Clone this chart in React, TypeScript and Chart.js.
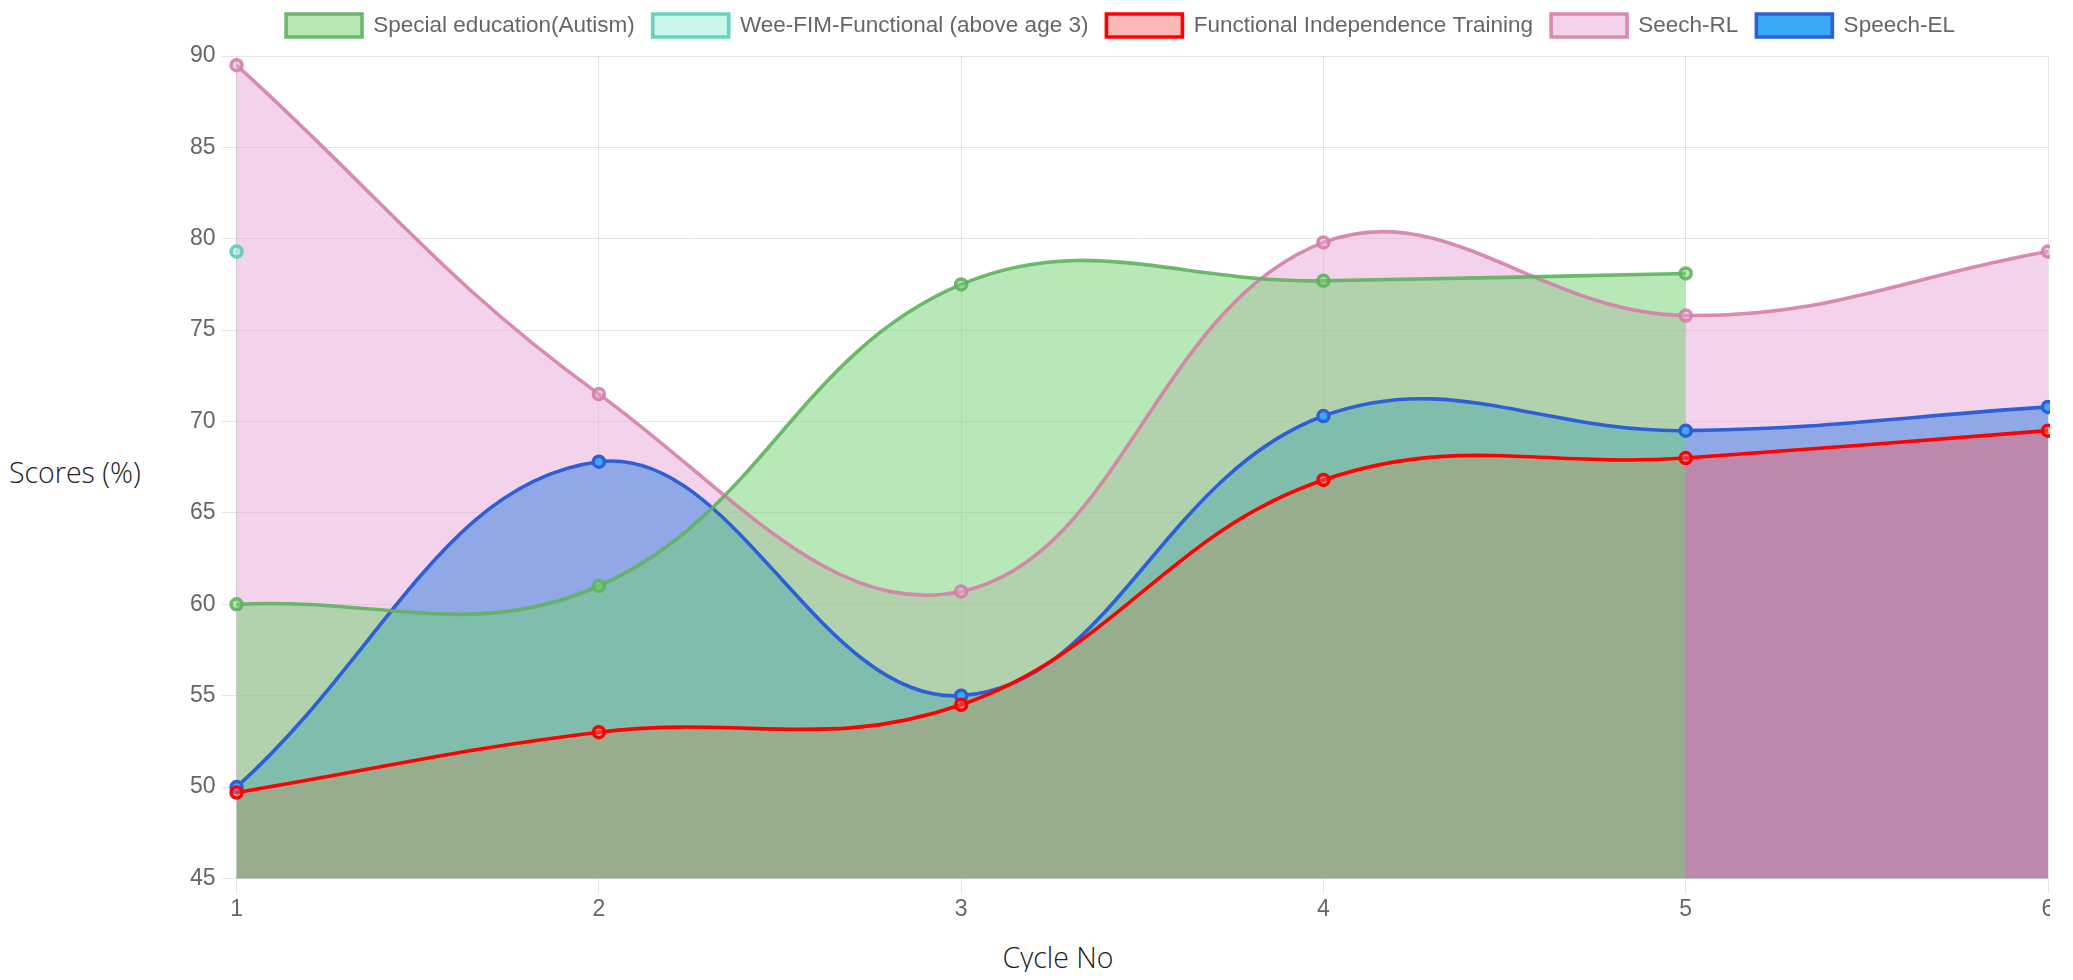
import React, { useEffect, useRef } from "react";
import { Chart, registerables } from "chart.js";

Chart.register(...registerables);

const cycleLabels = ["1", "2", "3", "4", "5", "6"];
const specialEducation = [60, 61, 77.5, 77.7, 78.1];
const weeFim = [79.3];
const functionalIndependence = [49.7, 53, 54.5, 66.8, 68, 69.5];
const speechRL = [89.5, 71.5, 60.7, 79.8, 75.8, 79.3];
const speechEL = [50, 67.8, 55, 70.3, 69.5, 70.8];

const yMin = 45;
const yMax = 90;
const yStep = 5;

const tickFont = { family: "'Liberation Sans', Arial, sans-serif", size: 23 };
const legendFont = { family: "'Liberation Sans', Arial, sans-serif", size: 22.5 };
const titleStyle: React.CSSProperties = {
  position: "absolute",
  fontFamily: "'Open Sans', 'Noto Sans', sans-serif",
  fontWeight: 300,
  fontSize: 28.5,
  lineHeight: "38px",
  color: "#222",
  whiteSpace: "nowrap",
};

const legendSpacer = {
  id: "legendSpacer",
  beforeInit(chart: any) {
    const legend = chart.legend;
    if (!legend) return;
    const origFit = legend.fit;
    legend.fit = function () {
      origFit.call(this);
      this.height += 9;
    };
  },
};

export default function App() {
  const ref = useRef<HTMLCanvasElement | null>(null);

  useEffect(() => {
    if (!ref.current) return;
    const common = {
      fill: "origin",
      tension: 0.4,
      borderWidth: 3.6,
      pointRadius: 5.5,
      pointBorderWidth: 3.5,
      pointHoverRadius: 5.5,
    };
    const chart = new Chart(ref.current, {
      type: "line",
      data: {
        labels: cycleLabels,
        datasets: [
          {
            ...common,
            label: "Special education(Autism)",
            data: specialEducation,
            borderColor: "rgba(95,178,95,0.9)",
            backgroundColor: "rgba(113,209,113,0.5)",
          },
          {
            ...common,
            label: "Wee-FIM-Functional (above age 3)",
            data: weeFim,
            borderColor: "rgba(90,205,185,0.9)",
            backgroundColor: "rgba(150,235,220,0.5)",
          },
          {
            ...common,
            label: "Functional Independence Training",
            data: functionalIndependence,
            borderColor: "rgb(255,0,0)",
            backgroundColor: "rgba(244,98,98,0.45)",
          },
          {
            ...common,
            label: "Seech-RL",
            data: speechRL,
            borderColor: "rgba(214,128,168,0.9)",
            backgroundColor: "rgba(231,168,217,0.5)",
          },
          {
            ...common,
            label: "Speech-EL",
            data: speechEL,
            borderColor: "rgb(45,96,215)",
            backgroundColor: "rgb(58,168,245)",
          },
        ],
      },
      options: {
        responsive: false,
        animation: false,
        layout: { padding: { bottom: 10 } },
        plugins: {
          filler: { drawTime: "beforeDatasetsDraw" },
          legend: {
            position: "top",
            labels: {
              font: legendFont,
              color: "#666",
              boxWidth: 76,
              boxHeight: 23,
              padding: 18,
            },
          },
          tooltip: { enabled: false },
        },
        scales: {
          x: {
            grid: { color: "rgba(0,0,0,0.1)", tickLength: 15 },
            ticks: { font: tickFont, color: "#666", padding: 2 },
          },
          y: {
            min: yMin,
            max: yMax,
            grid: { color: "rgba(0,0,0,0.1)", tickLength: 15 },
            ticks: { font: tickFont, color: "#666", padding: 6, stepSize: yStep },
          },
        },
      },
      plugins: [legendSpacer],
    } as any);
    return () => chart.destroy();
  }, []);

  return (
    <div style={{ position: "relative", width: 2057, height: 964 }}>
      <div style={{ ...titleStyle, left: 1, top: 445 }}>Scores (%)</div>
      <div
        style={{
          ...titleStyle,
          left: 850,
          width: 400,
          textAlign: "center",
          top: 930,
        }}
      >
        Cycle No
      </div>
      <div
        style={{
          position: "absolute",
          left: 176,
          top: -12,
          width: 1866,
          height: 939,
          overflow: "hidden",
        }}
      >
        <canvas ref={ref} width={1873} height={939} />
      </div>
    </div>
  );
}
